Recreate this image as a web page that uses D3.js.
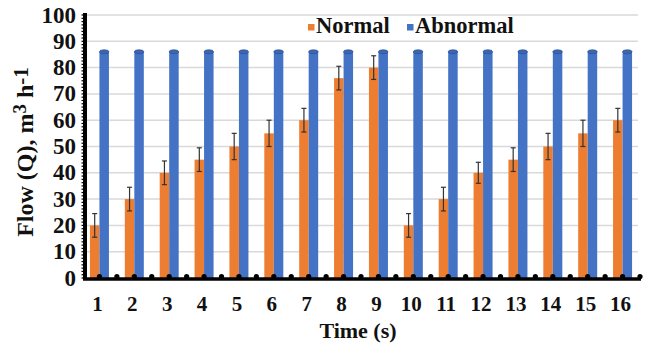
<!DOCTYPE html>
<html>
<head>
<meta charset="utf-8">
<script src="https://cdn.jsdelivr.net/npm/d3@7"></script>
<style>
  body { margin: 0; background: #fff; }
</style>
</head>
<body>
<div id="chart"></div>
<script>
// data
const times = ["1","2","3","4","5","6","7","8","9","10","11","12","13","14","15","16"];
const normal = [20, 30, 40, 45, 50, 55, 60, 76, 80, 20, 30, 40, 45, 50, 55, 60];
const normalErr = [4.5, 4.5, 4.5, 4.5, 5, 5, 4.5, 4.5, 4.5, 4.5, 4.5, 4, 4.5, 5, 5, 4.5];
const abnormal = [86, 86, 86, 86, 86, 86, 86, 86, 86, 86, 86, 86, 86, 86, 86, 86];
const yTicks = [0, 10, 20, 30, 40, 50, 60, 70, 80, 90, 100];

const width = 657, height = 351;
const plot = { left: 82, right: 640, top: 15, bottom: 278 };
const barW = 9.5;
const serif = "'Liberation Serif', 'Times New Roman', 'DejaVu Serif', serif";

const svg = d3.select("#chart").append("svg")
    .attr("width", width)
    .attr("height", height)
    .attr("font-family", serif)
    .attr("font-weight", "bold");

const x = d3.scaleBand()
    .domain(times)
    .range([plot.left, plot.right]);

const y = d3.scaleLinear()
    .domain([0, 100])
    .range([plot.bottom, plot.top]);

// gridlines
svg.append("g")
    .selectAll("line")
    .data(yTicks.filter(d => d > 0))
    .enter()
    .append("line")
    .attr("x1", plot.left + 3)
    .attr("x2", 638)
    .attr("y1", d => y(d))
    .attr("y2", d => y(d))
    .attr("stroke", "#d9d9d9")
    .attr("stroke-width", 1.5);

// normal bars (orange)
svg.append("g")
    .selectAll("rect")
    .data(times)
    .enter()
    .append("rect")
    .attr("x", d => x(d) + x.bandwidth() / 2 - barW)
    .attr("y", (d, i) => y(normal[i]))
    .attr("width", barW)
    .attr("height", (d, i) => y(0) - y(normal[i]))
    .attr("fill", "#ed7d31");

// abnormal bars (blue) with rounded caps
const blue = svg.append("g");
blue.selectAll("rect")
    .data(times)
    .enter()
    .append("rect")
    .attr("x", d => x(d) + x.bandwidth() / 2)
    .attr("y", (d, i) => y(abnormal[i]))
    .attr("width", barW)
    .attr("height", (d, i) => y(0) - y(abnormal[i]))
    .attr("fill", "#4472c4");
blue.selectAll("ellipse")
    .data(times)
    .enter()
    .append("ellipse")
    .attr("cx", d => x(d) + x.bandwidth() / 2 + barW / 2)
    .attr("cy", (d, i) => y(abnormal[i]))
    .attr("rx", barW / 2)
    .attr("ry", 2)
    .attr("fill", "#3d66b0")
    .attr("stroke", "#2f5597")
    .attr("stroke-width", 0.8);

// error bars on normal
const err = svg.append("g").attr("stroke", "#333").attr("stroke-width", 1.2);
times.forEach((t, i) => {
    const cx = x(t) + x.bandwidth() / 2 - barW / 2;
    const top = y(normal[i] + normalErr[i]);
    const bot = y(normal[i] - normalErr[i]);
    err.append("line").attr("x1", cx).attr("x2", cx).attr("y1", top).attr("y2", bot);
    err.append("line").attr("x1", cx - 2.5).attr("x2", cx + 2.5).attr("y1", top).attr("y2", top);
    err.append("line").attr("x1", cx - 2.5).attr("x2", cx + 2.5).attr("y1", bot).attr("y2", bot);
});

// y axis: thick line with dense minor ticks
svg.append("line")
    .attr("x1", 85).attr("x2", 85)
    .attr("y1", y(100) - 2).attr("y2", y(0) + 2)
    .attr("stroke", "#000")
    .attr("stroke-width", 4);
svg.append("g")
    .selectAll("line")
    .data(d3.range(0, 100.1, 1.25))
    .enter()
    .append("line")
    .attr("x1", 81.5).attr("x2", 85)
    .attr("y1", d => y(d)).attr("y2", d => y(d))
    .attr("stroke", "#000")
    .attr("stroke-width", 1.2);

// y tick labels
svg.append("g")
    .selectAll("text")
    .data(yTicks)
    .enter()
    .append("text")
    .attr("x", 76)
    .attr("y", d => y(d) + 7.5)
    .attr("text-anchor", "end")
    .attr("font-size", "23px")
    .attr("fill", "#111")
    .text(d => d);

// x axis: thick line with dots at centers and band edges
svg.append("line")
    .attr("x1", 83).attr("x2", 641)
    .attr("y1", 279).attr("y2", 279)
    .attr("stroke", "#000")
    .attr("stroke-width", 3.5);
const dotPos = [];
times.forEach(t => {
    dotPos.push(x(t) + x.bandwidth() / 2);
    dotPos.push(x(t) + x.bandwidth());
});
svg.append("g")
    .selectAll("circle")
    .data(dotPos)
    .enter()
    .append("circle")
    .attr("cx", d => d)
    .attr("cy", 276.5)
    .attr("r", 2.6)
    .attr("fill", "#000");

// x tick labels
svg.append("g")
    .selectAll("text")
    .data(times)
    .enter()
    .append("text")
    .attr("x", d => x(d) + x.bandwidth() / 2 - 2)
    .attr("y", 311)
    .attr("text-anchor", "middle")
    .attr("font-size", "21px")
    .attr("fill", "#111")
    .text(d => d);

// axis titles
svg.append("text")
    .attr("x", 358)
    .attr("y", 338)
    .attr("text-anchor", "middle")
    .attr("font-size", "22px")
    .attr("fill", "#111")
    .text("Time (s)");

const yTitle = svg.append("text")
    .attr("transform", "translate(33,152) rotate(-90)")
    .attr("text-anchor", "middle")
    .attr("font-size", "24px")
    .attr("fill", "#111");
yTitle.append("tspan").text("Flow (Q), m");
yTitle.append("tspan").attr("dy", -7).attr("font-size", "19px").text("3");
yTitle.append("tspan").attr("dy", 7).text(" h");
yTitle.append("tspan").attr("dy", -5).attr("font-size", "21px").text("-1");

// legend
const legend = svg.append("g");
legend.append("rect")
    .attr("x", 302).attr("y", 17)
    .attr("width", 228).attr("height", 21)
    .attr("fill", "#fff");
const items = [
    { name: "Normal", color: "#ed7d31", x: 308 },
    { name: "Abnormal", color: "#4472c4", x: 407 }
];
items.forEach(it => {
    legend.append("rect")
        .attr("x", it.x).attr("y", 24)
        .attr("width", 6.5).attr("height", 6.5)
        .attr("fill", it.color);
    legend.append("text")
        .attr("x", it.x + 8)
        .attr("y", 33)
        .attr("font-size", "22.5px")
        .attr("fill", "#111")
        .text(it.name);
});
</script>
</body>
</html>
